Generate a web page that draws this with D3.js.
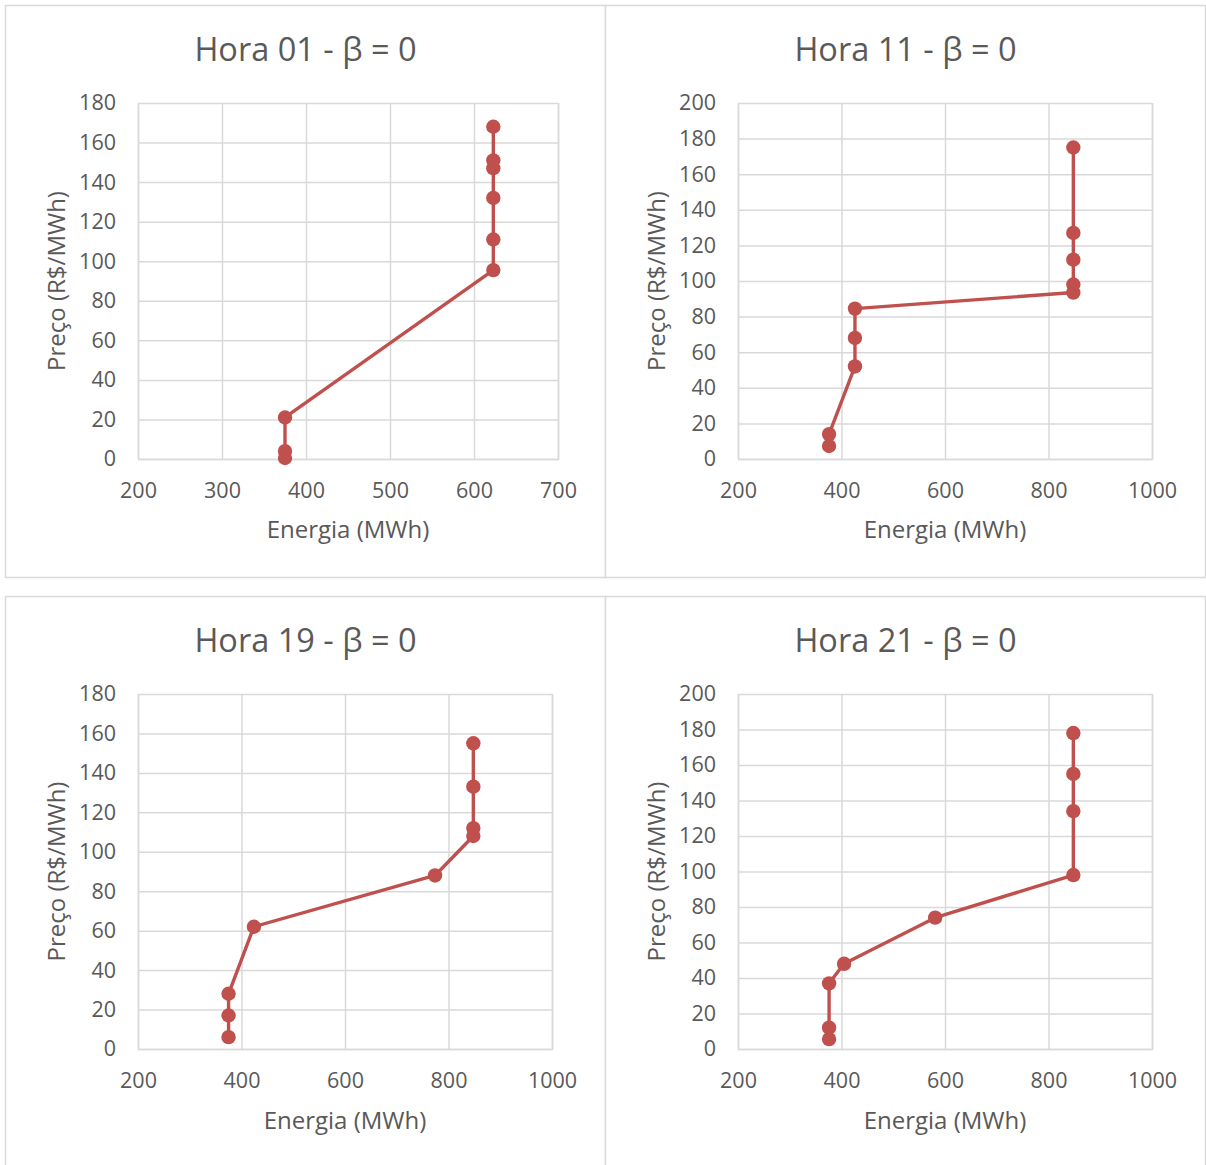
<!DOCTYPE html>
<html>
<head>
<meta charset="utf-8">
<script src="https://cdn.jsdelivr.net/npm/d3@7"></script>
<style>
  html, body { margin: 0; padding: 0; background: #fff; }
  svg { display: block; }
  text { font-family: "Open Sans", "Noto Sans", sans-serif; fill: #595959; }
</style>
</head>
<body>
<svg id="chart" width="1206" height="1165"></svg>
<script>
// Supply curves (energy offered vs. price) for four hours, beta = 0
const titles = ["Hora 01 - β = 0", "Hora 11 - β = 0", "Hora 19 - β = 0", "Hora 21 - β = 0"];

const energia01 = [375, 375, 375, 623, 623, 623, 623, 623, 623];
const preco01   = [0.5, 4, 21, 95.5, 111, 132, 147, 151, 168];

const energia11 = [376, 376, 426, 426, 426, 848, 848, 848, 848, 848];
const preco11   = [7.3, 14, 52, 68, 84.5, 93.5, 98, 112, 127, 175];

const energia19 = [375, 375, 375, 424, 774, 848, 848, 848, 848];
const preco19   = [6, 17, 28, 62, 88, 108, 112, 133, 155];

const energia21 = [376, 376, 376, 405, 581, 848, 848, 848, 848];
const preco21   = [5.6, 12, 37, 48, 74, 98, 134, 155, 178];

// Axis tick values
const xTicks01 = [200, 300, 400, 500, 600, 700];
const xTicksWide = [200, 400, 600, 800, 1000];
const yTicks180 = [0, 20, 40, 60, 80, 100, 120, 140, 160, 180];
const yTicks200 = [0, 20, 40, 60, 80, 100, 120, 140, 160, 180, 200];

const xLabel = "Energia (MWh)";
const yLabel = "Preço (R$/MWh)";

const panels = [
  { title: titles[0], x: energia01, y: preco01, xTicks: xTicks01, yTicks: yTicks180 },
  { title: titles[1], x: energia11, y: preco11, xTicks: xTicksWide, yTicks: yTicks200 },
  { title: titles[2], x: energia19, y: preco19, xTicks: xTicksWide, yTicks: yTicks180 },
  { title: titles[3], x: energia21, y: preco21, xTicks: xTicksWide, yTicks: yTicks200 }
];

// Frame geometry of the 2x2 grid and each plot area (relative to its frame)
const frames = [
  { x: 5.5, y: 5.5, w: 600, h: 572, right: 552.5, bottom: 453.5 },
  { x: 605.5, y: 5.5, w: 600, h: 572, right: 546.5, bottom: 453.5 },
  { x: 5.5, y: 596.5, w: 600, h: 580, right: 546.5, bottom: 452.5 },
  { x: 605.5, y: 596.5, w: 600, h: 580, right: 546.5, bottom: 452.5 }
];

const LINE = "#C0504D";
const GRID = "#D9D9D9";

const svg = d3.select("#chart");

panels.forEach((p, i) => {
  const f = frames[i];
  const g = svg.append("g").attr("transform", `translate(${f.x},${f.y})`);

  g.append("rect")
    .attr("x", 0).attr("y", 0)
    .attr("width", f.w).attr("height", f.h)
    .attr("fill", "#fff")
    .attr("stroke", GRID).attr("stroke-width", 1.5);

  const left = 132.5, right = f.right, top = 97.5, bottom = f.bottom;

  const xs = d3.scaleLinear()
    .domain(d3.extent(p.xTicks))
    .range([left, right]);
  const ys = d3.scaleLinear()
    .domain(d3.extent(p.yTicks))
    .range([bottom, top]);

  // Horizontal gridlines + y tick labels
  const yAxis = d3.axisLeft(ys)
    .tickValues(p.yTicks)
    .tickSize(-(right - left))
    .tickPadding(22)
    .tickFormat(d3.format("d"));
  const ya = g.append("g").attr("transform", `translate(${left},0)`).call(yAxis);
  ya.select(".domain").remove();
  ya.selectAll("line").attr("stroke", GRID).attr("stroke-width", 1.5);
  ya.selectAll("text")
    .attr("fill", "#595959")
    .style("font-family", '"Open Sans", sans-serif')
    .style("font-size", "21.5px");

  // Vertical gridlines + x tick labels
  const xAxis = d3.axisBottom(xs)
    .tickValues(p.xTicks)
    .tickSize(-(bottom - top))
    .tickPadding(24)
    .tickFormat(d3.format("d"));
  const xa = g.append("g").attr("transform", `translate(0,${bottom})`).call(xAxis);
  xa.select(".domain").attr("stroke", GRID).attr("stroke-width", 1.5);
  xa.selectAll("line").attr("stroke", GRID).attr("stroke-width", 1.5);
  xa.selectAll("text")
    .attr("fill", "#595959")
    .style("font-family", '"Open Sans", sans-serif')
    .style("font-size", "21.5px");

  // Title
  g.append("text")
    .attr("x", f.w / 2).attr("y", 55)
    .attr("text-anchor", "middle")
    .style("font-size", "32.5px")
    .text(p.title);

  // Axis titles
  g.append("text")
    .attr("x", (left + right) / 2).attr("y", 532)
    .attr("text-anchor", "middle")
    .style("font-size", "24px")
    .text(xLabel);

  g.append("text")
    .attr("transform", `translate(59,${(top + bottom) / 2}) rotate(-90)`)
    .attr("text-anchor", "middle")
    .style("font-size", "24px")
    .text(yLabel);

  // Curve
  const pts = p.x.map((v, k) => [v, p.y[k]]);
  const line = d3.line().x(d => xs(d[0])).y(d => ys(d[1]));
  g.append("path")
    .datum(pts)
    .attr("d", line)
    .attr("fill", "none")
    .attr("stroke", LINE)
    .attr("stroke-width", 3.4)
    .attr("stroke-linejoin", "round");

  g.selectAll("circle.pt")
    .data(pts)
    .enter().append("circle")
    .attr("class", "pt")
    .attr("cx", d => xs(d[0]))
    .attr("cy", d => ys(d[1]))
    .attr("r", 7.2)
    .attr("fill", LINE);
});
</script>
</body>
</html>
